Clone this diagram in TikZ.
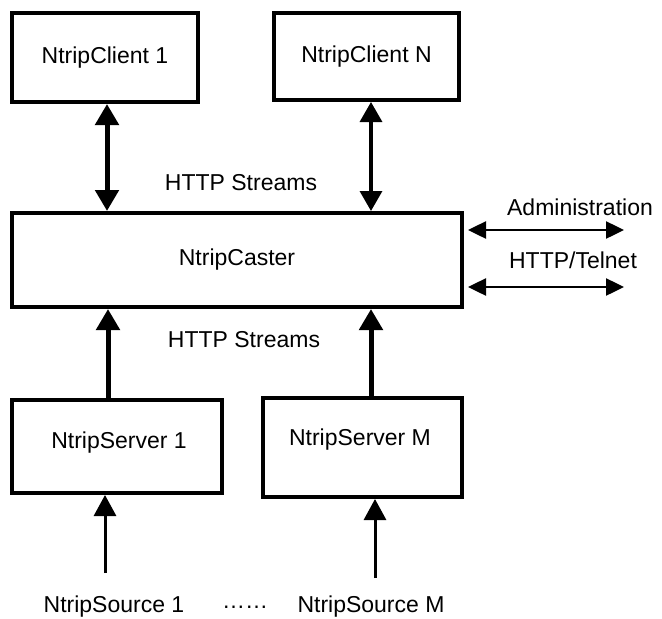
\documentclass[tikz,border=0pt]{standalone}
\usepackage{fontspec}
\setmainfont{Liberation Sans}
\usetikzlibrary{arrows.meta}
\begin{document}
\begin{tikzpicture}[x=1pt,y=-1pt,
  box/.style={draw=black,line width=4pt,inner sep=0pt,font=\fontsize{23}{27}\selectfont},
  lbl/.style={font=\fontsize{23}{27}\selectfont,inner sep=0pt},
  big/.style={line width=5pt,-{Triangle[width=23pt,length=21pt]}},
  bigb/.style={line width=5pt,{Triangle[width=23pt,length=21pt]}-{Triangle[width=23pt,length=21pt]}},
  midb/.style={line width=3.3pt,{Triangle[width=22pt,length=20pt]}-{Triangle[width=22pt,length=20pt]}},
  thin/.style={line width=3pt,-{Triangle[width=22pt,length=21pt]}},
  adm/.style={line width=2.5pt,{Triangle[width=17pt,length=18pt]}-{Triangle[width=17pt,length=18pt]}}]
\useasboundingbox (0,0) rectangle (662,619);
\fill[white] (0,0) rectangle (662,619);
% boxes
\node[box,minimum width=186pt,minimum height=89pt] (c1) at (105,57.5) {NtripClient 1};
\node[box,minimum width=185pt,minimum height=87pt] (cN) at (366.5,56.5) {NtripClient N};
\node[box,minimum width=450pt,minimum height=94pt] (caster) at (237,260) {NtripCaster};
\node[box,minimum width=210pt,minimum height=93pt] (s1) at (117,446.5) {};
\node[box,minimum width=199pt,minimum height=99pt] (sM) at (362.5,447.5) {};
\node[lbl] (s1t) at (119,443) {NtripServer 1};
\node[lbl] (sMt) at (360,440) {NtripServer M};
% labels
\node[lbl] (hs1) at (241,183) {HTTP Streams};
\node[lbl] (hs2) at (244,340) {HTTP Streams};
\node[lbl] (admin) at (580,207) {Administration};
\node[lbl] (telnet) at (573,260) {HTTP/Telnet};
\node[lbl] (src1) at (114,607) {NtripSource 1};
\node[lbl] (dots) at (245,607) {……};
\node[lbl] (srcM) at (371,607) {NtripSource M};
% free ends
\coordinate (a1) at (624,230);
\coordinate (a2) at (624,287);
\coordinate (p1) at (105,573);
\coordinate (pM) at (375,578);
% connectors
\draw[bigb] ([xshift=2pt]c1.south) -- ([xshift=2pt]c1.south |- caster.north);
\draw[midb] ([xshift=4.5pt]cN.south) -- ([xshift=4.5pt]cN.south |- caster.north);
\draw[big] ([xshift=-9pt]s1.north) -- ([xshift=-9pt]s1.north |- caster.south);
\draw[big] ([xshift=8.5pt]sM.north) -- ([xshift=8.5pt]sM.north |- caster.south);
\draw[thin] (p1) -- (p1 |- s1.south);
\draw[thin] (pM) -- (pM |- sM.south);
\draw[adm] ([xshift=4pt]caster.east |- a1) -- (a1);
\draw[adm] ([xshift=4pt]caster.east |- a2) -- (a2);
\end{tikzpicture}
\end{document}
